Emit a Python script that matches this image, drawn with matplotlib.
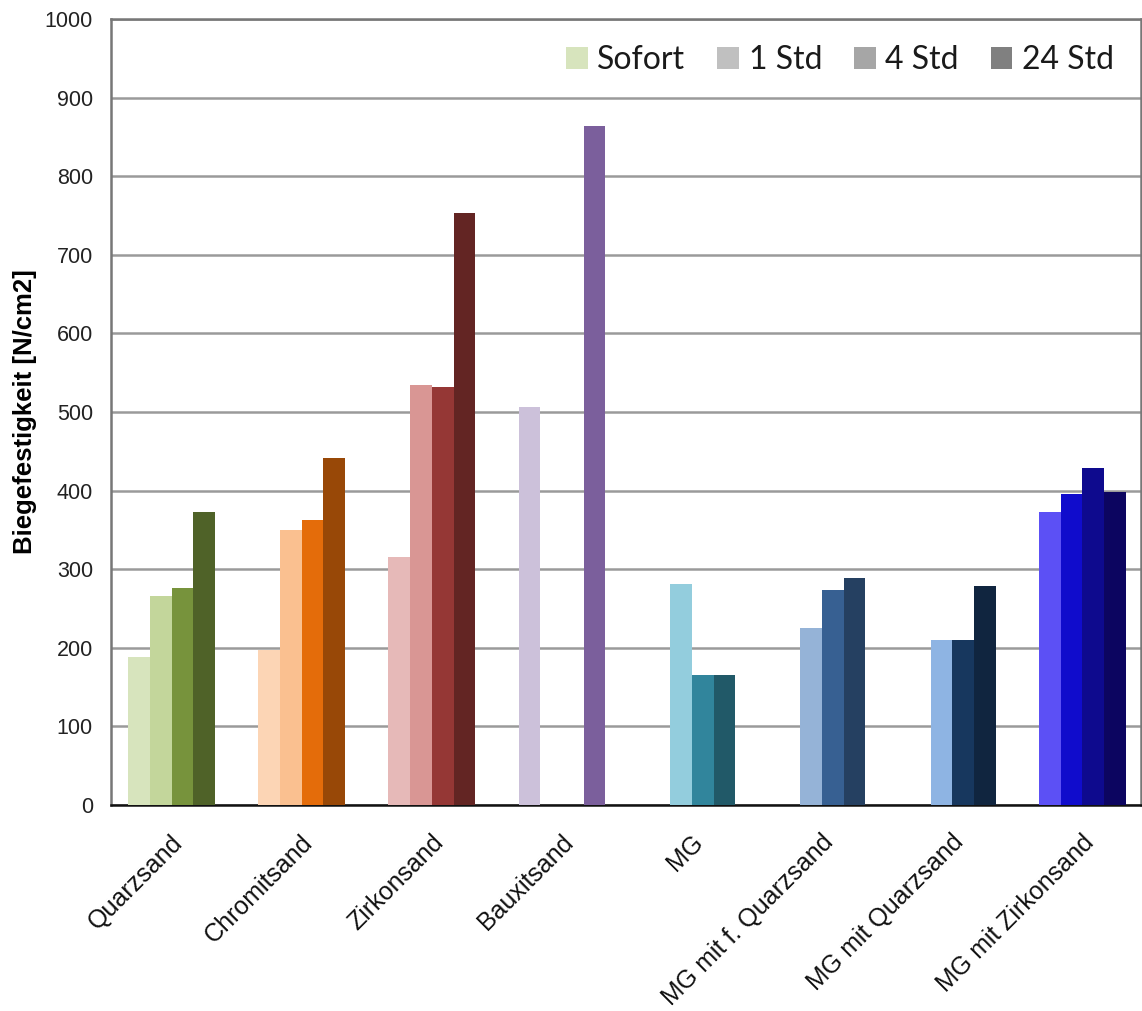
import numpy as np
import matplotlib
matplotlib.use("Agg")
import matplotlib.pyplot as plt
from matplotlib.patches import Patch
from matplotlib.transforms import ScaledTranslation, blended_transform_factory

# Sand types (categories)
categories = ["Quarzsand", "Chromitsand", "Zirkonsand", "Bauxitsand", "MG",
              "MG mit f. Quarzsand", "MG mit Quarzsand", "MG mit Zirkonsand"]

# Bending strength [N/cm2] after storage time (nan = not measured)
nan = np.nan
sofort = [188, 197, 316, 506, nan, nan, nan, 373]
std_1 = [266, 350, 534, nan, 281, 225, 210, 396]
std_4 = [276, 363, 532, nan, 165, 273, 210, 429]
std_24 = [373, 442, 753, 864, 165, 289, 279, 398]

series_labels = ["Sofort", "1 Std", "4 Std", "24 Std"]
legend_colors = ["#d7e4bd", "#c0c0c0", "#a6a6a6", "#808080"]

# Colour ramp per category (light -> dark for the four storage times)
group_colors = [
    ["#d7e4bd", "#c3d69b", "#77933c", "#4f6228"],
    ["#fcd5b5", "#fac090", "#e46c0a", "#984807"],
    ["#e6b9b8", "#d99694", "#953735", "#632523"],
    ["#ccc1da", "#ccc1da", "#8064a2", "#7b5f9c"],
    ["#93cddd", "#93cddd", "#31859c", "#215968"],
    ["#95b3d7", "#95b3d7", "#376092", "#254061"],
    ["#8eb4e3", "#8eb4e3", "#17375e", "#10253f"],
    ["#5c50f5", "#100ccc", "#0e0a8e", "#0c0560"],
]

plt.rcParams["font.family"] = ["Liberation Sans", "DejaVu Sans"]

fig = plt.figure(figsize=(11.42, 10.11), dpi=100)
ax = fig.add_axes([0.0972, 0.2037, 0.9018, 0.7775])

values = np.array([sofort, std_1, std_4, std_24], dtype=float)
x = np.arange(len(categories))
w = 1.0 / 6.0
for j in range(4):
    for i in range(len(categories)):
        v = values[j, i]
        if np.isnan(v):
            continue
        ax.bar(x[i] + (j - 1.5) * w, v, width=w, color=group_colors[i][j],
               edgecolor="none", zorder=3)

ax.set_xlim(-0.466, 7.45)
ax.set_ylim(0, 1000)
ax.set_yticks(np.arange(0, 1001, 100))
ax.yaxis.grid(True, color="#9a9a9a", linewidth=1.8, zorder=0)
ax.set_axisbelow(True)

# Category labels, rotated 45 degrees below the axis
ax.set_xticks(x)
ax.set_xticklabels([])
ax.tick_params(axis="x", length=0)
label_tf = (blended_transform_factory(ax.transData, ax.transAxes)
            + ScaledTranslation(16 / 100, -25 / 100, fig.dpi_scale_trans))
for xi, name in zip(x, categories):
    ax.text(xi, 0, name, transform=label_tf, rotation=45, ha="right",
            va="top", fontsize=18, color="#111111", clip_on=False)

ax.tick_params(axis="y", length=0, pad=13, labelsize=15.5, colors="#222222")

ax.set_ylabel("Biegefestigkeit [N/cm2]", fontsize=18.5, fontweight="bold")
ax.yaxis.set_label_coords(-0.072, 0.5)

for side in ("top", "left", "right"):
    ax.spines[side].set_color("#777777")
    ax.spines[side].set_linewidth(1.8)
ax.spines["bottom"].set_color("#111111")
ax.spines["bottom"].set_linewidth(1.8)

handles = [Patch(facecolor=c, edgecolor="none") for c in legend_colors]
ax.legend(handles, series_labels, ncol=4, frameon=False, loc="center right",
          bbox_to_anchor=(0.974, 0.948), borderaxespad=0, borderpad=0,
          prop={"family": ["Lato", "DejaVu Sans"], "size": 23},
          handlelength=0.68, handleheight=0.68, handletextpad=0.3,
          columnspacing=1.0, labelcolor="#1a1a1a")

fig.savefig("out.png", dpi=100, facecolor="white")
